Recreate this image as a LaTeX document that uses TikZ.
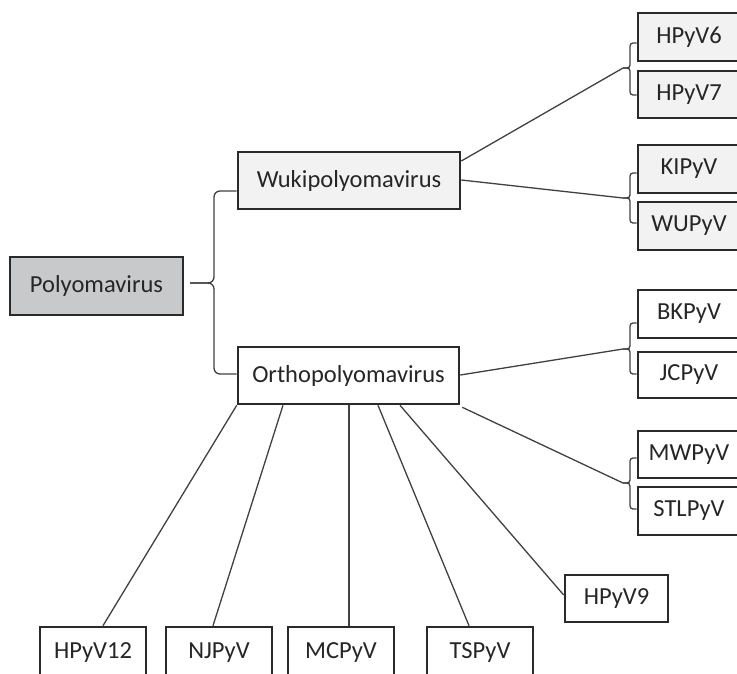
\documentclass[tikz,border=0pt]{standalone}
\usepackage{fontspec}
\setmainfont{Carlito}
\definecolor{boxline}{HTML}{2A2A2A}
\definecolor{conline}{HTML}{404040}
\definecolor{txt}{HTML}{262626}
\definecolor{polyfill}{HTML}{C8C9CB}
\definecolor{wukifill}{HTML}{F2F2F2}
\tikzset{
  taxbox/.style={draw=boxline, line width=2.6pt, rectangle, inner sep=0pt,
    text=txt, font=\fontsize{24.5}{29}\selectfont},
  conn/.style={draw=conline, line width=1.3pt},
  brace/.style={conn, rounded corners=6pt},
  smallbrace/.style={conn, rounded corners=3pt}
}
\begin{document}
\begin{tikzpicture}[x=1pt,y=-1pt]
\useasboundingbox (0,0) rectangle (737,673);
% main boxes
\node[taxbox, fill=polyfill, minimum width=173pt, minimum height=58pt] (poly) at (96.5,286) {Polyomavirus};
\node[taxbox, fill=wukifill, minimum width=222pt, minimum height=57pt] (wuki) at (349,180.5) {Wukipolyomavirus};
\node[taxbox, fill=white, minimum width=221pt, minimum height=57pt] (ortho) at (348.5,375.5) {Orthopolyomavirus};
% right column
\node[taxbox, fill=wukifill, minimum width=102pt, minimum height=48pt] (hpyv6) at (689,37) {HPyV6};
\node[taxbox, fill=wukifill, minimum width=102pt, minimum height=47pt] (hpyv7) at (689,94.5) {HPyV7};
\node[taxbox, fill=wukifill, minimum width=102pt, minimum height=48pt] (kipyv) at (689,169) {KIPyV};
\node[taxbox, fill=wukifill, minimum width=102pt, minimum height=48pt] (wupyv) at (689,226) {WUPyV};
\node[taxbox, fill=white, minimum width=102pt, minimum height=48pt] (bkpyv) at (689,314) {BKPyV};
\node[taxbox, fill=white, minimum width=102pt, minimum height=46pt] (jcpyv) at (689,375) {JCPyV};
\node[taxbox, fill=white, minimum width=102pt, minimum height=47pt] (mwpyv) at (689,454.5) {MWPyV};
\node[taxbox, fill=white, minimum width=102pt, minimum height=48pt] (stlpyv) at (689,511) {STLPyV};
% bottom row
\node[taxbox, fill=white, minimum width=103pt, minimum height=47pt] (hpyv9) at (616.5,598.5) {HPyV9};
\node[taxbox, fill=white, minimum width=106pt, minimum height=52pt] (hpyv12) at (93,653) {HPyV12};
\node[taxbox, fill=white, minimum width=106pt, minimum height=52pt] (njpyv) at (219,653) {NJPyV};
\node[taxbox, fill=white, minimum width=106pt, minimum height=52pt] (mcpyv) at (341,653) {MCPyV};
\node[taxbox, fill=white, minimum width=106pt, minimum height=52pt] (tspyv) at (480,653) {TSPyV};
% brace from Polyomavirus
\coordinate (pt) at (190,283);
\draw[brace] (wuki.west |- 0,191) -- (214,191) -- (214,283) -- (pt);
\draw[brace] (ortho.west |- 0,374) -- (214,374) -- (214,283) -- (pt);
% small braces on the right
\coordinate (b1) at (623,68);
\coordinate (b2) at (623,198);
\coordinate (b3) at (623,349);
\coordinate (b4) at (623,483);
\draw[smallbrace] (hpyv6.west |- 0,43) -- (630,43) -- (630,68) -- (b1);
\draw[smallbrace] (hpyv7.west |- 0,95) -- (630,95) -- (630,68) -- (b1);
\draw[smallbrace] (kipyv.west |- 0,173) -- (630,173) -- (630,198) -- (b2);
\draw[smallbrace] (wupyv.west |- 0,223) -- (630,223) -- (630,198) -- (b2);
\draw[smallbrace] (bkpyv.west |- 0,323) -- (630,323) -- (630,349) -- (b3);
\draw[smallbrace] (jcpyv.west |- 0,374) -- (630,374) -- (630,349) -- (b3);
\draw[smallbrace] (mwpyv.west |- 0,458) -- (630,458) -- (630,483) -- (b4);
\draw[smallbrace] (stlpyv.west |- 0,509) -- (630,509) -- (630,483) -- (b4);
% connectors to braces
\draw[conn] (wuki.east |- 0,161) -- (b1);
\draw[conn] (wuki.east |- 0,180) -- (b2);
\draw[conn] (ortho.east |- 0,375) -- (b3);
\draw[conn] ([shift={(2pt,-2pt)}]ortho.south east) -- (b4);
% connectors down from Orthopolyomavirus
\draw[conn] (ortho.south west) -- (hpyv12.north -| 103,0);
\draw[conn] (ortho.south -| 283,0) -- (njpyv.north -| 213,0);
\draw[conn] (ortho.south -| 349,0) -- (mcpyv.north -| 349,0);
\draw[conn] (ortho.south -| 378,0) -- (tspyv.north -| 469,0);
\draw[conn] (ortho.south -| 400,0) -- (hpyv9.west |- 0,595);
\end{tikzpicture}
\end{document}
